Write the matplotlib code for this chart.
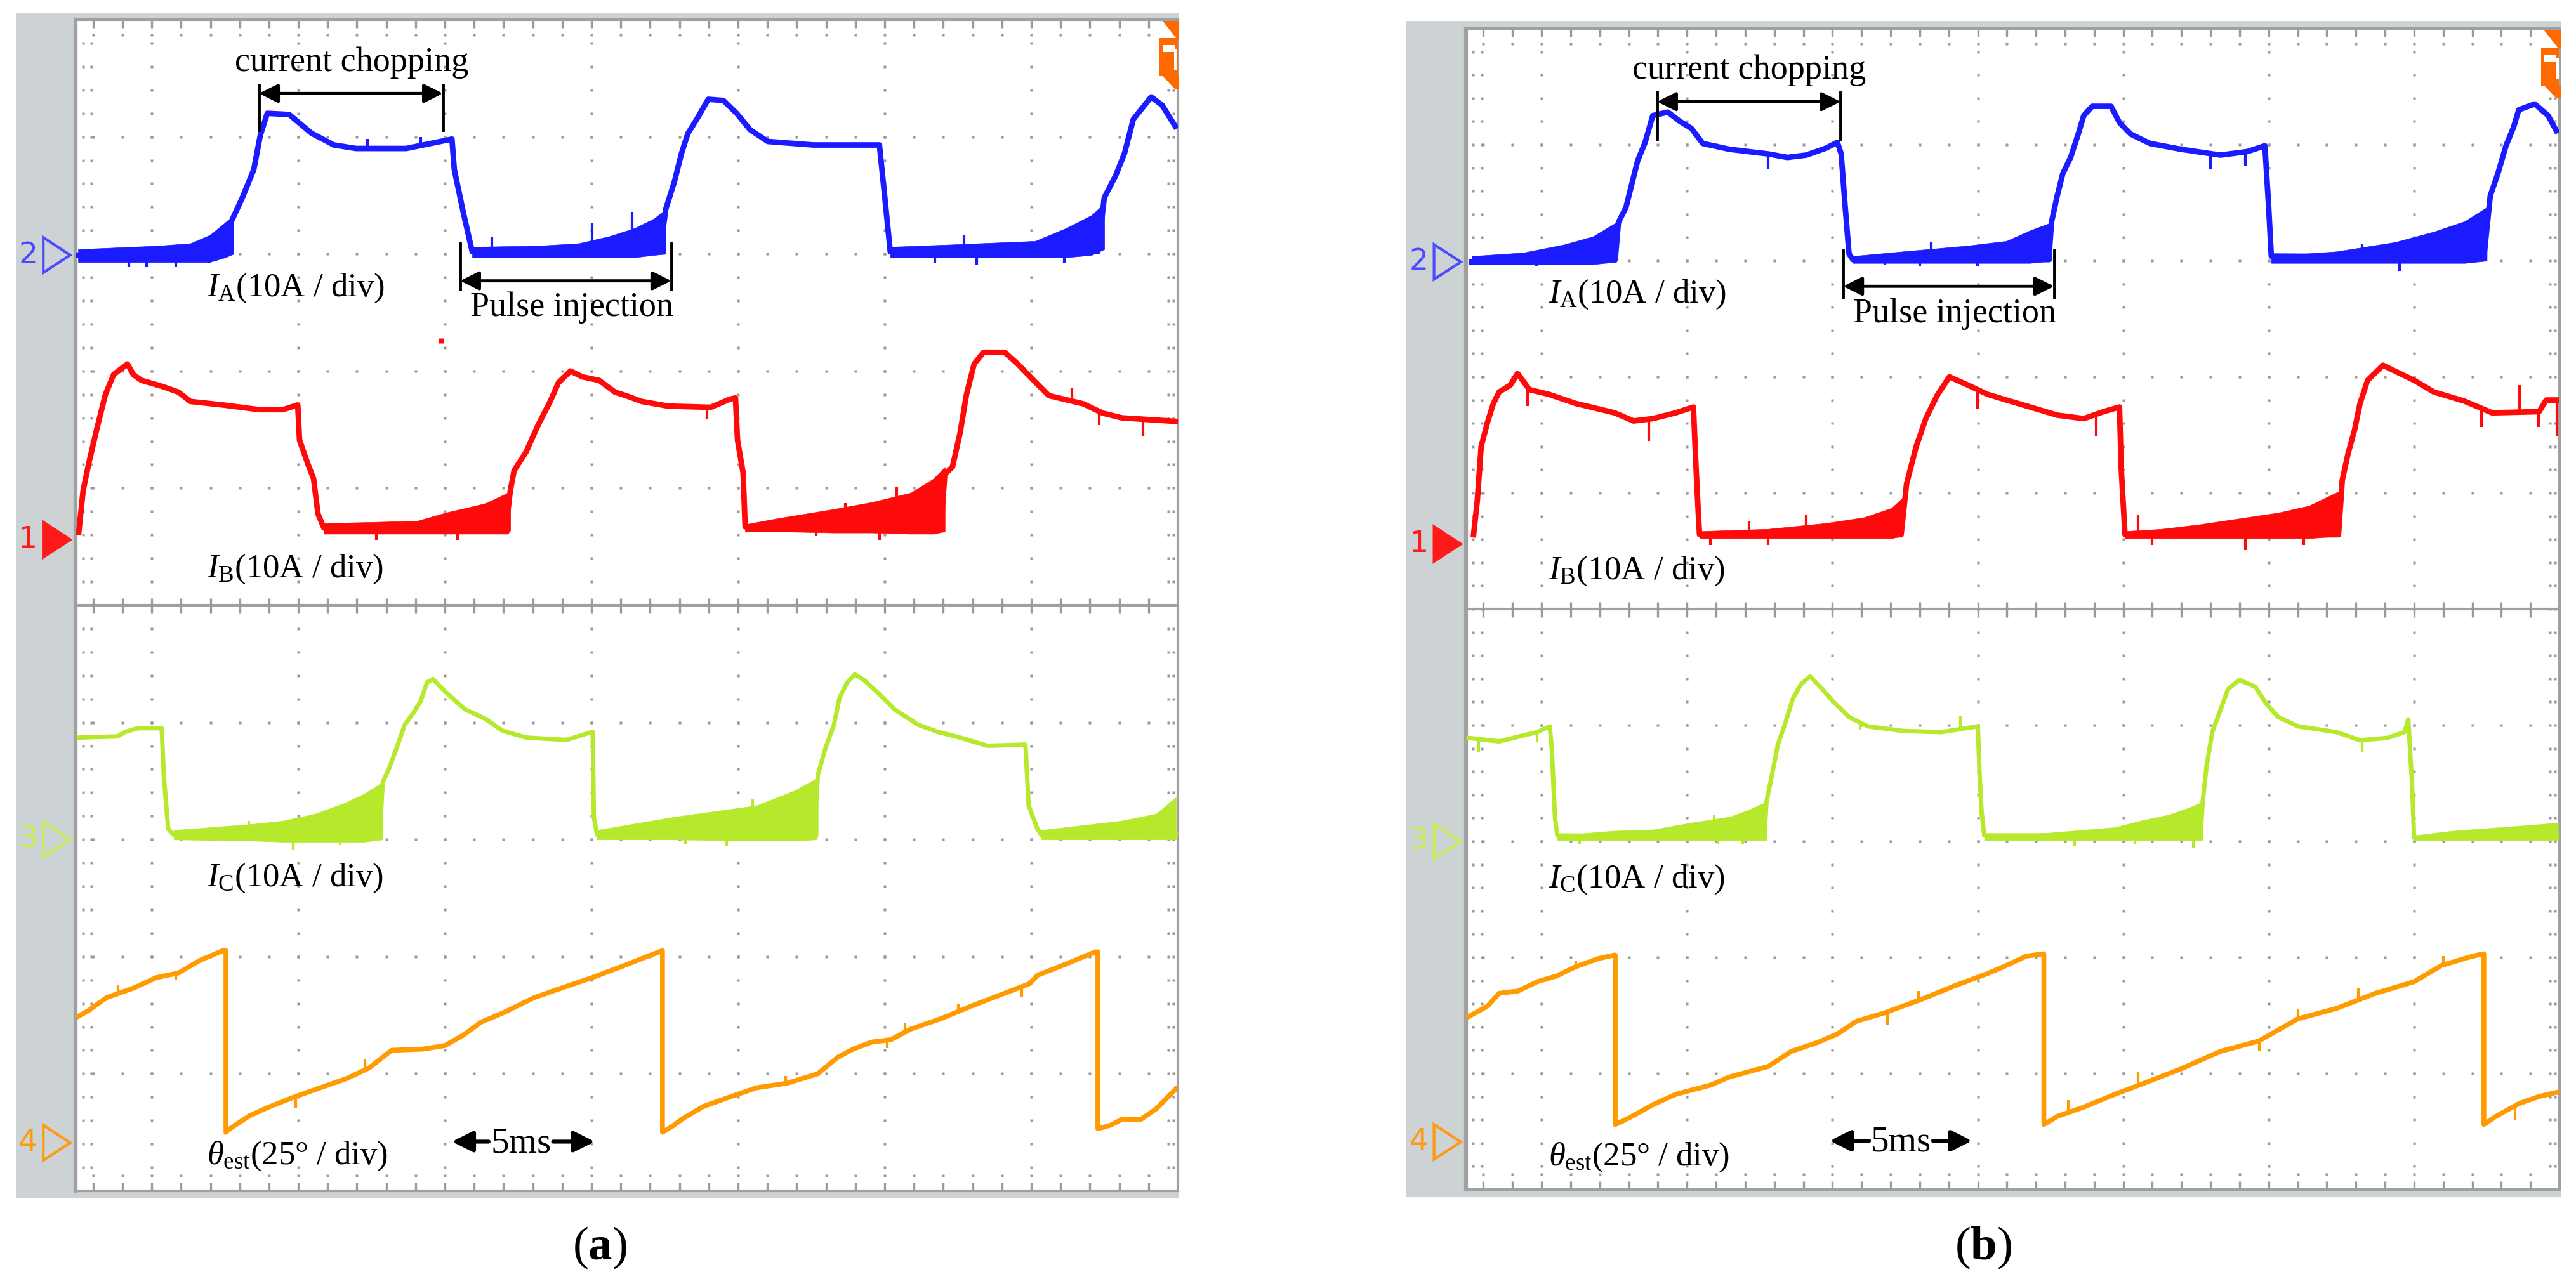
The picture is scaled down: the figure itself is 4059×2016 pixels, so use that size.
import numpy as np
import matplotlib
matplotlib.use('Agg')
import matplotlib.pyplot as plt
from matplotlib.patches import Rectangle, Polygon

plt.rcParams['font.family'] = ['Liberation Serif', 'DejaVu Serif']
plt.rcParams['mathtext.fontset'] = 'custom'
plt.rcParams['mathtext.rm'] = 'Liberation Serif'
plt.rcParams['mathtext.it'] = 'Liberation Serif:italic'
plt.rcParams['mathtext.bf'] = 'Liberation Serif:bold'

# time axis in ms (5 ms/div), level in screen divisions (0 = bottom, 10 = top)

# ---------------- panel (a) ----------------
a_ia_t = [0.09, 3.92, 5.32, 5.69, 6.08, 6.30, 6.54, 7.29, 8.05, 8.81, 9.57, 11.28, 12.45, 12.84,
          12.92, 13.23, 13.53, 16.90, 19.94, 20.13, 20.43, 20.67, 20.89, 21.19, 21.58, 22.10,
          22.55, 23.01, 23.61, 25.15, 27.42, 27.58, 27.79, 32.06, 34.87, 35.09, 35.48, 35.78,
          36.08, 36.69, 37.06, 37.51]
a_ia_v = [7.99, 7.99, 8.28, 8.48, 8.72, 9.01, 9.20, 9.19, 9.03, 8.93, 8.90, 8.90, 8.96, 8.98,
          8.72, 8.35, 8.02, 8.02, 8.02, 8.38, 8.62, 8.86, 9.03, 9.15, 9.32, 9.31, 9.20, 9.06,
          8.96, 8.93, 8.93, 8.54, 8.02, 8.02, 8.02, 8.48, 8.67, 8.86, 9.15, 9.34, 9.27, 9.09]
a_ia_bands = [
    ([0.09, 2.84, 3.92, 4.57, 5.11, 5.39], [7.93, 7.93, 7.93, 7.93, 7.97, 8.00],
     [8.04, 8.07, 8.09, 8.16, 8.24, 8.30]),
    ([13.53, 15.82, 17.16, 18.20, 19.07, 19.72, 20.13], [7.97, 7.97, 7.97, 7.97, 7.97, 7.99, 8.00],
     [8.06, 8.07, 8.09, 8.15, 8.22, 8.30, 8.38]),
    ([27.79, 29.89, 32.73, 33.79, 34.65, 35.09], [7.97, 7.97, 7.97, 7.97, 7.99, 8.04],
     [8.06, 8.08, 8.11, 8.22, 8.33, 8.43]),
]
a_ia_spk_t = [1.82, 2.42, 3.42, 4.57, 14.20, 17.62, 18.98, 9.96, 11.77, 29.31, 30.30, 30.74, 33.72]
a_ia_spk_v = [7.89, 7.89, 7.89, 7.92, 8.14, 8.26, 8.36, 8.98, 9.00, 7.92, 8.16, 7.91, 7.92]

a_ib_t = [0.11, 0.26, 0.45, 0.74, 1.02, 1.30, 1.56, 1.77, 1.97, 2.25, 2.94, 3.51, 3.92, 5.02,
          6.26, 7.08, 7.58, 7.64, 7.92, 8.12, 8.27, 8.47, 14.68, 14.83, 14.96, 15.37, 15.78,
          16.19, 16.47, 16.88, 17.29, 17.86, 18.40, 18.77, 19.31, 20.22, 21.67, 22.32, 22.51,
          22.58, 22.77, 22.84, 29.52, 29.65, 29.91, 30.17, 30.39, 30.65, 30.97, 31.69, 32.14,
          32.68, 33.20, 34.37, 35.04, 35.69, 37.53]
a_ib_v = [5.62, 5.98, 6.21, 6.52, 6.80, 6.97, 7.02, 7.06, 6.97, 6.92, 6.87, 6.82, 6.74, 6.71,
          6.67, 6.67, 6.71, 6.41, 6.21, 6.08, 5.78, 5.66, 5.66, 5.98, 6.15, 6.31, 6.54, 6.74,
          6.90, 7.00, 6.95, 6.92, 6.82, 6.79, 6.74, 6.70, 6.69, 6.76, 6.77, 6.41, 6.13, 5.67,
          5.67, 6.12, 6.18, 6.47, 6.80, 7.06, 7.16, 7.16, 7.06, 6.92, 6.79, 6.72, 6.64, 6.60, 6.57]
a_ib_bands = [
    ([8.47, 11.65, 12.62, 13.98, 14.74, 14.83], [5.61, 5.61, 5.61, 5.61, 5.61, 5.64],
     [5.70, 5.72, 5.79, 5.87, 5.96, 5.98]),
    ([22.84, 23.90, 25.84, 27.16, 28.48, 29.26, 29.65], [5.63, 5.63, 5.62, 5.62, 5.61, 5.61, 5.63],
     [5.69, 5.74, 5.82, 5.88, 5.96, 6.08, 6.18]),
]
a_ib_spk_t = [10.26, 13.03, 25.26, 27.42, 28.01, 26.26, 21.54, 33.98, 34.91, 36.41]
a_ib_spk_v = [5.56, 5.56, 5.59, 5.56, 6.01, 5.87, 6.59, 6.85, 6.54, 6.44]

a_ic_t = [0.11, 1.43, 1.71, 2.12, 2.94, 3.01, 3.16, 3.35, 10.37, 10.48, 10.67, 10.95, 11.23,
          11.52, 11.77, 11.99, 12.19, 12.62, 13.29, 13.98, 14.55, 15.37, 16.75, 17.64, 17.68,
          17.79, 25.19, 25.32, 25.58, 25.87, 26.06, 26.32, 26.58, 26.90, 27.42, 27.94, 28.74,
          29.39, 30.17, 31.10, 32.40, 32.51, 32.81, 32.94, 37.53]
a_ic_v = [3.87, 3.88, 3.92, 3.95, 3.95, 3.55, 3.09, 3.04, 3.03, 3.49, 3.59, 3.78, 3.98, 4.08,
          4.18, 4.34, 4.37, 4.26, 4.11, 4.03, 3.93, 3.87, 3.85, 3.92, 3.19, 3.04, 3.03, 3.55,
          3.78, 3.98, 4.21, 4.34, 4.41, 4.36, 4.24, 4.11, 3.98, 3.92, 3.87, 3.80, 3.81, 3.29,
          3.09, 3.04, 3.04]
a_ic_bands = [
    ([3.35, 5.97, 7.08, 8.18, 9.16, 9.85, 10.48], [3.00, 2.99, 2.98, 2.98, 2.98, 2.98, 3.00],
     [3.08, 3.13, 3.16, 3.22, 3.31, 3.39, 3.49]),
    ([17.79, 20.35, 23.23, 24.55, 25.26, 25.32], [3.00, 3.00, 2.99, 2.99, 3.00, 3.03],
     [3.08, 3.19, 3.29, 3.42, 3.52, 3.55]),
    ([32.94, 35.69, 36.86, 37.53], [3.00, 3.00, 3.00, 3.00], [3.08, 3.16, 3.22, 3.36]),
]
a_ic_spk_t = [7.42, 9.03, 5.91, 22.21, 20.80, 23.10]
a_ic_spk_v = [2.91, 2.95, 3.16, 2.94, 2.96, 3.34]

a_th_t = [0.09, 0.45, 1.06, 1.97, 2.75, 3.51, 4.26, 5.02, 5.13, 5.13, 5.32, 5.93, 6.54, 7.45,
          8.35, 9.26, 10.02, 10.78, 11.84, 12.60, 13.23, 13.83, 14.59, 15.65, 16.56, 17.62,
          18.68, 19.59, 20.02, 20.02, 20.35, 20.74, 21.41, 22.19, 23.23, 24.29, 25.32, 26.00,
          26.52, 27.16, 27.81, 28.48, 29.52, 30.58, 31.62, 32.55, 32.81, 33.72, 34.78, 34.87,
          34.87, 35.30, 35.69, 36.34, 36.86, 37.53]
a_th_v = [1.49, 1.54, 1.65, 1.73, 1.82, 1.86, 1.97, 2.05, 2.05, 0.50, 0.54, 0.64, 0.71, 0.80,
          0.88, 0.96, 1.05, 1.20, 1.21, 1.24, 1.33, 1.44, 1.52, 1.65, 1.73, 1.82, 1.92, 2.01,
          2.05, 0.50, 0.55, 0.62, 0.72, 0.79, 0.88, 0.92, 1.00, 1.14, 1.21, 1.27, 1.29, 1.38,
          1.47, 1.58, 1.68, 1.77, 1.84, 1.93, 2.04, 2.04, 0.53, 0.56, 0.61, 0.61, 0.70, 0.87]
a_th_spk_t = [1.45, 3.42, 7.51, 9.87, 24.22, 27.68, 28.29, 30.11, 32.27]
a_th_spk_v = [1.76, 1.80, 0.71, 1.12, 0.98, 1.22, 1.43, 1.59, 1.65]

# ---------------- panel (b) ----------------
b_ia_t = [0.20, 5.13, 5.24, 5.50, 5.70, 5.90, 6.16, 6.42, 6.94, 7.36, 7.75, 8.14, 9.06, 10.39,
          11.05, 11.70, 12.38, 12.77, 12.90, 13.03, 13.17, 13.30, 20.04, 20.13, 20.33, 20.52,
          20.79, 21.05, 21.24, 21.53, 22.18, 22.47, 22.86, 23.52, 24.59, 25.94, 26.86, 27.47,
          27.60, 27.69, 35.00, 35.22, 35.48, 35.76, 36.02, 36.20, 36.75, 37.21, 37.49]
b_ia_v = [7.99, 8.01, 8.33, 8.46, 8.66, 8.86, 9.02, 9.25, 9.28, 9.20, 9.14, 9.01, 8.96, 8.92,
          8.89, 8.91, 8.97, 9.02, 8.92, 8.49, 8.06, 8.01, 8.01, 8.33, 8.56, 8.75, 8.89, 9.09,
          9.25, 9.33, 9.33, 9.19, 9.09, 9.01, 8.96, 8.91, 8.94, 8.99, 8.46, 8.04, 8.03, 8.56,
          8.75, 8.99, 9.15, 9.30, 9.35, 9.25, 9.12]
b_ia_bands = [
    ([0.20, 1.97, 3.38, 4.37, 5.17], [7.97, 7.97, 7.97, 7.97, 7.99], [8.04, 8.07, 8.14, 8.21, 8.33]),
    ([13.30, 15.02, 17.25, 18.58, 19.39, 20.13], [7.98, 7.98, 7.98, 7.98, 7.98, 8.00],
     [8.04, 8.08, 8.13, 8.17, 8.26, 8.33]),
    ([27.69, 29.93, 31.94, 33.28, 34.34, 35.10], [7.98, 7.98, 7.98, 7.98, 7.98, 8.00],
     [8.04, 8.08, 8.16, 8.25, 8.34, 8.46]),
]
b_ia_spk_t = [2.42, 10.39, 14.41, 15.61, 16.00, 17.58, 25.59, 26.79, 30.81, 32.10]
b_ia_spk_v = [7.95, 8.79, 7.96, 7.95, 8.16, 7.95, 8.79, 8.82, 8.14, 7.91]

b_ib_t = [0.26, 0.39, 0.52, 0.74, 0.94, 1.14, 1.53, 1.77, 2.18, 2.84, 3.78, 5.11, 5.76, 6.42,
          7.21, 7.82, 7.90, 7.99, 8.03, 14.96, 15.15, 15.48, 15.81, 16.20, 16.62, 17.25, 17.93,
          18.58, 19.26, 20.33, 21.24, 21.92, 22.47, 22.53, 22.66, 30.00, 30.13, 30.33, 30.55,
          30.74, 31.00, 31.53, 31.94, 32.60, 33.28, 34.34, 35.28, 36.90, 37.14, 37.49]
b_ib_v = [5.64, 5.94, 6.40, 6.61, 6.77, 6.87, 6.93, 7.03, 6.89, 6.85, 6.77, 6.69, 6.62, 6.64,
          6.69, 6.74, 6.27, 5.81, 5.64, 5.64, 6.08, 6.40, 6.64, 6.84, 7.00, 6.93, 6.85, 6.80,
          6.75, 6.67, 6.64, 6.70, 6.74, 6.21, 5.64, 5.64, 6.11, 6.34, 6.54, 6.77, 6.97, 7.10,
          7.05, 6.97, 6.87, 6.79, 6.69, 6.70, 6.80, 6.80]
b_ib_bands = [
    ([8.03, 10.39, 12.38, 13.69, 14.63, 15.02], [5.61, 5.61, 5.61, 5.61, 5.61, 5.63],
     [5.67, 5.69, 5.74, 5.79, 5.87, 5.96]),
    ([22.66, 23.93, 25.26, 26.59, 27.93, 28.99, 30.06], [5.61, 5.61, 5.61, 5.61, 5.61, 5.61, 5.63],
     [5.67, 5.69, 5.73, 5.78, 5.83, 5.89, 6.02]),
]
b_ib_spk_t = [2.12, 6.29, 8.41, 9.74, 10.39, 11.70, 17.58, 21.66, 23.12, 23.58, 26.79, 28.80,
              34.91, 36.22, 36.88, 37.51]
b_ib_spk_v = [6.75, 6.45, 5.55, 5.76, 5.55, 5.81, 6.72, 6.49, 5.81, 5.55, 5.51, 5.55,
              6.57, 6.93, 6.57, 6.49]

b_ic_t = [0.09, 1.14, 1.79, 2.45, 2.88, 2.95, 3.06, 3.14, 10.26, 10.33, 10.52, 10.72, 10.98,
          11.24, 11.51, 11.83, 12.25, 12.64, 13.17, 13.82, 15.02, 16.35, 17.60, 17.66, 17.73,
          17.82, 25.26, 25.33, 25.46, 25.66, 25.94, 26.20, 26.59, 27.14, 27.53, 27.93, 28.60,
          29.93, 30.74, 31.68, 32.27, 32.40, 32.53, 32.60, 37.55]
b_ic_v = [3.89, 3.86, 3.90, 3.94, 3.99, 3.79, 3.20, 3.05, 3.03, 3.34, 3.57, 3.83, 4.02, 4.23,
          4.35, 4.42, 4.31, 4.20, 4.07, 3.99, 3.95, 3.94, 3.99, 3.57, 3.25, 3.05, 3.05, 3.34,
          3.64, 3.94, 4.13, 4.31, 4.39, 4.33, 4.18, 4.07, 3.99, 3.94, 3.87, 3.89, 3.94, 4.05,
          3.49, 3.03, 3.04]
b_ic_bands = [
    ([3.14, 5.09, 6.42, 7.75, 9.06, 9.72, 10.33], [3.01, 3.01, 3.01, 3.01, 3.01, 3.01, 3.01],
     [3.05, 3.09, 3.10, 3.16, 3.21, 3.27, 3.34]),
    ([17.82, 19.91, 22.31, 23.25, 24.19, 24.87, 25.33], [3.01, 3.01, 3.01, 3.01, 3.01, 3.01, 3.01],
     [3.05, 3.07, 3.12, 3.18, 3.23, 3.29, 3.34]),
    ([32.60, 33.95, 36.62, 37.55], [3.01, 3.01, 3.01, 3.01], [3.05, 3.09, 3.14, 3.16]),
]
b_ic_spk_t = [0.44, 2.45, 3.91, 8.54, 8.67, 9.52, 13.56, 17.01, 20.92, 22.99, 25.00, 30.81]
b_ic_spk_v = [3.77, 3.85, 2.97, 3.23, 2.97, 2.97, 3.96, 4.08, 2.96, 2.97, 2.94, 3.77]

b_th_t = [0.09, 0.74, 1.14, 1.79, 2.45, 3.12, 3.78, 4.56, 5.11, 5.13, 5.13, 5.63, 6.42, 7.21,
          8.41, 9.06, 10.39, 11.18, 12.12, 12.77, 13.43, 14.37, 15.68, 16.75, 17.93, 18.58,
          19.26, 19.85, 19.87, 19.87, 20.33, 21.24, 22.31, 23.25, 24.59, 25.94, 27.27, 28.60,
          29.93, 31.27, 32.60, 33.54, 34.61, 34.98, 35.00, 35.00, 35.41, 36.20, 36.88, 37.55]
b_th_v = [1.49, 1.58, 1.69, 1.71, 1.79, 1.84, 1.92, 1.99, 2.02, 2.02, 0.56, 0.62, 0.73, 0.82,
          0.90, 0.97, 1.06, 1.19, 1.27, 1.34, 1.45, 1.52, 1.64, 1.75, 1.86, 1.93, 2.01, 2.03,
          2.03, 0.56, 0.63, 0.71, 0.82, 0.91, 1.04, 1.19, 1.28, 1.47, 1.56, 1.69, 1.79, 1.93,
          2.01, 2.03, 2.03, 0.56, 0.63, 0.74, 0.80, 0.84]
b_th_spk_t = [3.78, 14.50, 15.55, 20.72, 23.12, 27.27, 28.60, 30.68, 33.60, 36.07]
b_th_spk_v = [1.97, 1.42, 1.71, 0.77, 1.01, 1.19, 1.56, 1.73, 2.01, 0.60]

# channel reference levels (div) and labels
ch_levels = [7.99, 5.56, 3.00, 0.41]
ch_names = ['2', '1', '3', '4']
trace_labels = [r'$I_{\mathrm{A}}$(10A / div)', r'$I_{\mathrm{B}}$(10A / div)',
                r'$I_{\mathrm{C}}$(10A / div)', r'$\theta_{\mathrm{est}}$(25° / div)']

BLUE, RED, GREEN, ORANGE = '#1b1bff', '#ff0a0a', '#b6e82b', '#ff9b00'
MARK_COLORS = ['#4a4aff', '#ff1a1a', '#c6ee55', '#ff9a10']
FRAME, BORDER, GRID = '#cdd2d4', '#a0a0a0', '#9a9a9a'
ICON = '#ff6a00'

W, H = 4059, 2016
fig = plt.figure(figsize=(W / 100, H / 100), dpi=100)
fig.patch.set_facecolor('white')


def fig_rect(x0, y0, x1, y1, **kw):
    fig.add_artist(Rectangle((x0 / W, 1 - y1 / H), (x1 - x0) / W, (y1 - y0) / H,
                             transform=fig.transFigure, **kw))


def fig_poly(pts, **kw):
    fig.add_artist(Polygon([(x / W, 1 - y / H) for x, y in pts], closed=True,
                           transform=fig.transFigure, **kw))


MAJ_X = np.arange(2.6, 37.0, 5.0)
MIN_X = np.arange(0.6, 37.0, 1.0)
MIN_Y = np.arange(0.2, 9.9, 0.2)


def scope_grid(ax):
    xs, ys = [], []
    for x in MAJ_X:
        xs.extend([x] * len(MIN_Y))
        ys.extend(MIN_Y)
    for y in (1, 2, 3, 4, 6, 7, 8, 9, 0.13, 9.87):
        xs.extend(MIN_X)
        ys.extend([y] * len(MIN_X))
    for x in (0.25, 0.55, 37.28, 37.45):
        xs.extend([x] * len(MIN_Y))
        ys.extend(MIN_Y)
    ax.plot(xs, ys, 's', ms=3.1, mfc=GRID, mec='none', zorder=1)
    ax.vlines(MIN_X, 9.93, 10, color=GRID, lw=2.4, zorder=1)
    ax.vlines(MIN_X, 0, 0.07, color=GRID, lw=2.4, zorder=1)
    ax.axhline(5, color=BORDER, lw=3, zorder=1)
    ax.vlines(MIN_X, 4.93, 5.06, color=GRID, lw=2.4, zorder=1)


def draw_trace(ax, t, v, bands, spk_t, spk_v, color, lw):
    for bt, blo, bhi in bands:
        ax.fill_between(bt, blo, bhi, color=color, lw=0.5, zorder=3)
    ax.plot(t, v, color=color, lw=lw, zorder=3)
    base = np.interp(spk_t, t, v)
    ax.vlines(spk_t, base, spk_v, color=color, lw=3, zorder=3)


def arrow(ax, x0, x1, y, style, lw=3.5, ms=45):
    ax.annotate('', xy=(x1, y), xytext=(x0, y),
                arrowprops=dict(arrowstyle=style, color='k', lw=lw, mutation_scale=ms,
                                shrinkA=0, shrinkB=0), zorder=6)


def make_panel(box, frame, traces, ann):
    fx0, fy0, fx1, fy1 = frame
    fig_rect(fx0, fy0, fx1, fy1, facecolor=FRAME, edgecolor='none', zorder=-2)
    x0, y0, x1, y1 = box
    ax = fig.add_axes([x0 / W, 1 - y1 / H, (x1 - x0) / W, (y1 - y0) / H])
    ax.set_facecolor('white')
    ax.set_xlim(0, 37.6)
    ax.set_ylim(0, 10)
    ax.set_xticks([])
    ax.set_yticks([])
    for s in ax.spines.values():
        s.set_color(BORDER)
        s.set_linewidth(3)
    ax.spines['left'].set_linewidth(4.5)
    scope_grid(ax)

    for (t, v, bands, st, sv, col, lw) in traces:
        draw_trace(ax, t, v, bands, st, sv, col, lw)

    # channel markers in the grey strip
    for lev, name, col in zip(ch_levels, ch_names, MARK_COLORS):
        ax.text(-1.62, lev, name, family='DejaVu Sans', fontsize=34, color=col,
                ha='center', va='center', clip_on=False, zorder=6)
        ax.add_patch(Polygon([(-1.1, lev + 0.15), (-1.1, lev - 0.15), (-0.18, lev)],
                             closed=True, fill=(name == '1'), facecolor=col, edgecolor=col,
                             lw=3, clip_on=False, zorder=6))

    # current chopping
    c0, c1, cy, cb0, cb1, ctx, cty = ann['chop']
    for c in (c0, c1):
        ax.plot([c, c], [cb0, cb1], color='k', lw=3.5, zorder=6)
    arrow(ax, c0, c1, cy, '<|-|>')
    ax.text(ctx, cty, 'current chopping', fontsize=39, ha='center', va='baseline', zorder=6)

    # pulse injection
    p0, p1, py, pb0, pb1, ptx, pty = ann['pulse']
    for p in (p0, p1):
        ax.plot([p, p], [pb0, pb1], color='k', lw=3.5, zorder=6)
    arrow(ax, p0, p1, py, '<|-|>')
    ax.text(ptx, pty, 'Pulse injection', fontsize=39, ha='center', va='baseline', zorder=6)

    # trace labels
    lx = ann['label_t']
    for lab, ly in zip(trace_labels, ann['label_v']):
        ax.text(lx, ly, lab, fontsize=38, ha='left', va='baseline', zorder=6)

    # time scale
    s0, s1, sc, sy, sty = ann['scale']
    arrow(ax, sc - 1.1, s0, sy, '-|>', lw=4.5, ms=50)
    arrow(ax, sc + 1.1, s1, sy, '-|>', lw=4.5, ms=50)
    ax.text(sc, sty, '5ms', fontsize=41, ha='center', va='baseline', zorder=6)
    return ax


ann_a = dict(chop=(6.26, 12.53, 9.37, 9.06, 9.44, 9.42, 9.56),
             pulse=(13.12, 20.32, 7.77, 7.70, 8.09, 16.93, 7.47),
             label_t=4.48, label_v=[7.64, 5.24, 2.60, 0.23],
             scale=(12.84, 17.71, 15.19, 0.42, 0.33))
ann_b = dict(chop=(6.57, 12.88, 9.37, 9.05, 9.45, 9.74, 9.57),
             pulse=(12.97, 20.22, 7.78, 7.69, 8.09, 16.81, 7.47),
             label_t=2.84, label_v=[7.64, 5.26, 2.60, 0.21],
             scale=(12.51, 17.40, 14.96, 0.42, 0.33))

traces_a = [(a_ia_t, a_ia_v, a_ia_bands, a_ia_spk_t, a_ia_spk_v, BLUE, 6.3),
            (a_ib_t, a_ib_v, a_ib_bands, a_ib_spk_t, a_ib_spk_v, RED, 6.3),
            (a_ic_t, a_ic_v, a_ic_bands, a_ic_spk_t, a_ic_spk_v, GREEN, 5.0),
            (a_th_t, a_th_v, [], a_th_spk_t, a_th_spk_v, ORANGE, 5.5)]
traces_b = [(b_ia_t, b_ia_v, b_ia_bands, b_ia_spk_t, b_ia_spk_v, BLUE, 6.3),
            (b_ib_t, b_ib_v, b_ib_bands, b_ib_spk_t, b_ib_spk_v, RED, 6.3),
            (b_ic_t, b_ic_v, b_ic_bands, b_ic_spk_t, b_ic_spk_v, GREEN, 5.0),
            (b_th_t, b_th_v, [], b_th_spk_t, b_th_spk_v, ORANGE, 5.5)]

ax_a = make_panel((119, 31, 1856, 1877), (25, 20, 1858, 1889), traces_a, ann_a)
ax_b = make_panel((2310, 45, 4033, 1875), (2216, 33, 4035, 1887), traces_b, ann_b)

# stray red dot in (a)
ax_a.plot([12.47], [7.26], 's', color=RED, ms=6, mec='none', zorder=3)

# trigger icon, cut by the right edge of each screen
for ix, iy in ((1827, 32), (4004, 47)):
    fig_poly([(ix + 5, iy + 1), (ix + 31, iy + 1), (ix + 31, iy + 29), (ix + 27, iy + 29)],
             facecolor=ICON, edgecolor='none', zorder=5)
    fig_rect(ix, iy + 28, ix + 29, iy + 88, facecolor=ICON, edgecolor='none', zorder=5)
    fig_rect(ix + 5, iy + 39, ix + 24, iy + 50, facecolor='white', edgecolor='none', zorder=6)
    fig_rect(ix + 23, iy + 45, ix + 28, iy + 78, facecolor='white', edgecolor='none', zorder=6)
    fig_poly([(ix + 5, iy + 88), (ix + 31, iy + 88), (ix + 31, iy + 108), (ix + 24, iy + 108)],
             facecolor=ICON, edgecolor='none', zorder=5)

fig.text(945 / W, 1 - 1985 / H, r'($\mathbf{a}$)', fontsize=54, ha='center', va='baseline')
fig.text(3125 / W, 1 - 1985 / H, r'($\mathbf{b}$)', fontsize=54, ha='center', va='baseline')

fig.savefig('out.png', dpi=100, facecolor='white')
